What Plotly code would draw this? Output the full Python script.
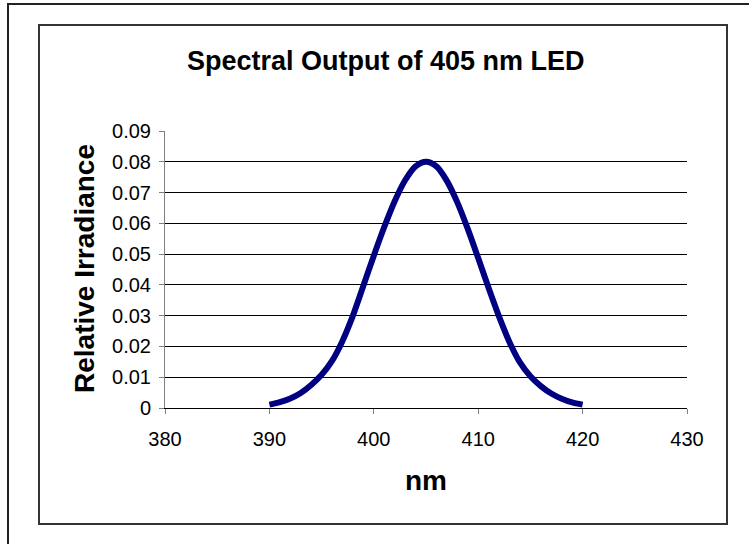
import plotly.graph_objects as go

# Data
wavelength_nm = [390, 391, 392, 393, 394, 395, 396, 397, 398, 399, 400,
                 401, 402, 403, 404, 405, 406, 407, 408, 409, 410,
                 411, 412, 413, 414, 415, 416, 417, 418, 419, 420]
irradiance = [0.0011, 0.0019, 0.0031, 0.0049, 0.0075, 0.0108, 0.0153, 0.0218, 0.0300, 0.0397, 0.0495,
              0.0588, 0.0672, 0.0740, 0.0785, 0.0800, 0.0785, 0.0738, 0.0668, 0.0582, 0.0487,
              0.0390, 0.0297, 0.0214, 0.0148, 0.0103, 0.0071, 0.0047, 0.0030, 0.0018, 0.0011]

x_ticks = [380, 390, 400, 410, 420, 430]
y_ticks = [0, 0.01, 0.02, 0.03, 0.04, 0.05, 0.06, 0.07, 0.08, 0.09]
y_tick_labels = ["0", "0.01", "0.02", "0.03", "0.04", "0.05", "0.06", "0.07", "0.08", "0.09"]

title_text = "Spectral Output of 405 nm LED"
x_title = "nm"
y_title = "Relative Irradiance"

W, H = 749, 544
L, R, T, B = 165, 687, 131, 408  # plot area pixel bounds


def px(xp):
    return (xp - L) / (R - L)


def py(yp):
    return (B - yp) / (B - T)


FONT = "Liberation Sans, Arial, sans-serif"

fig = go.Figure()
fig.add_trace(go.Scatter(
    x=wavelength_nm, y=irradiance, mode="lines",
    line=dict(color="#000080", width=6, shape="spline", smoothing=0.8),
    showlegend=False, hoverinfo="x+y",
))

fig.update_layout(
    width=W, height=H,
    margin=dict(l=L, r=W - R, t=T, b=H - B, pad=0),
    paper_bgcolor="white", plot_bgcolor="white",
    font=dict(family=FONT, color="black", size=20),
    xaxis=dict(
        range=[380, 430], tickvals=x_ticks, ticktext=[str(v) for v in x_ticks],
        showgrid=False, zeroline=False,
        showline=True, linecolor="black", linewidth=1,
        ticks="outside", ticklen=5, tickcolor="#808080", tickwidth=1,
        ticklabelstandoff=8,
        tickfont=dict(size=20, family=FONT), fixedrange=True,
    ),
    yaxis=dict(
        range=[0, 0.09], tickvals=y_ticks, ticktext=y_tick_labels,
        showgrid=True, gridcolor="black", gridwidth=1,
        zeroline=False,
        showline=True, linecolor="#808080", linewidth=1,
        ticks="outside", ticklen=5, tickcolor="#808080", tickwidth=1,
        ticklabelstandoff=4,
        tickfont=dict(size=20, family=FONT), fixedrange=True,
    ),
    shapes=[
        # outer frame (extends beyond right/bottom edge)
        dict(type="rect", xref="paper", yref="paper",
             x0=px(8), x1=px(W + 10), y0=py(H + 10), y1=py(4),
             line=dict(color="#222222", width=2), layer="below"),
        # chart area frame
        dict(type="rect", xref="paper", yref="paper",
             x0=px(39), x1=px(727), y0=py(524), y1=py(25),
             line=dict(color="#333333", width=2), layer="below"),
    ],
    annotations=[
        dict(text="<b>" + title_text + "</b>", xref="paper", yref="paper",
             x=px(386), y=py(61), xanchor="center", yanchor="middle",
             showarrow=False, font=dict(size=27, family=FONT, color="black")),
        dict(text="<b>" + x_title + "</b>", xref="paper", yref="paper",
             x=px(426), y=py(480), xanchor="center", yanchor="middle",
             showarrow=False, font=dict(size=28, family=FONT, color="black")),
        dict(text="<b>" + y_title + "</b>", xref="paper", yref="paper",
             x=px(84), y=py(269), xanchor="center", yanchor="middle",
             textangle=-90,
             showarrow=False, font=dict(size=28, family=FONT, color="black")),
    ],
)

fig.write_html("out.html", config={"displayModeBar": False},
               post_script="document.body.style.margin='0';document.body.style.overflow='hidden';")
